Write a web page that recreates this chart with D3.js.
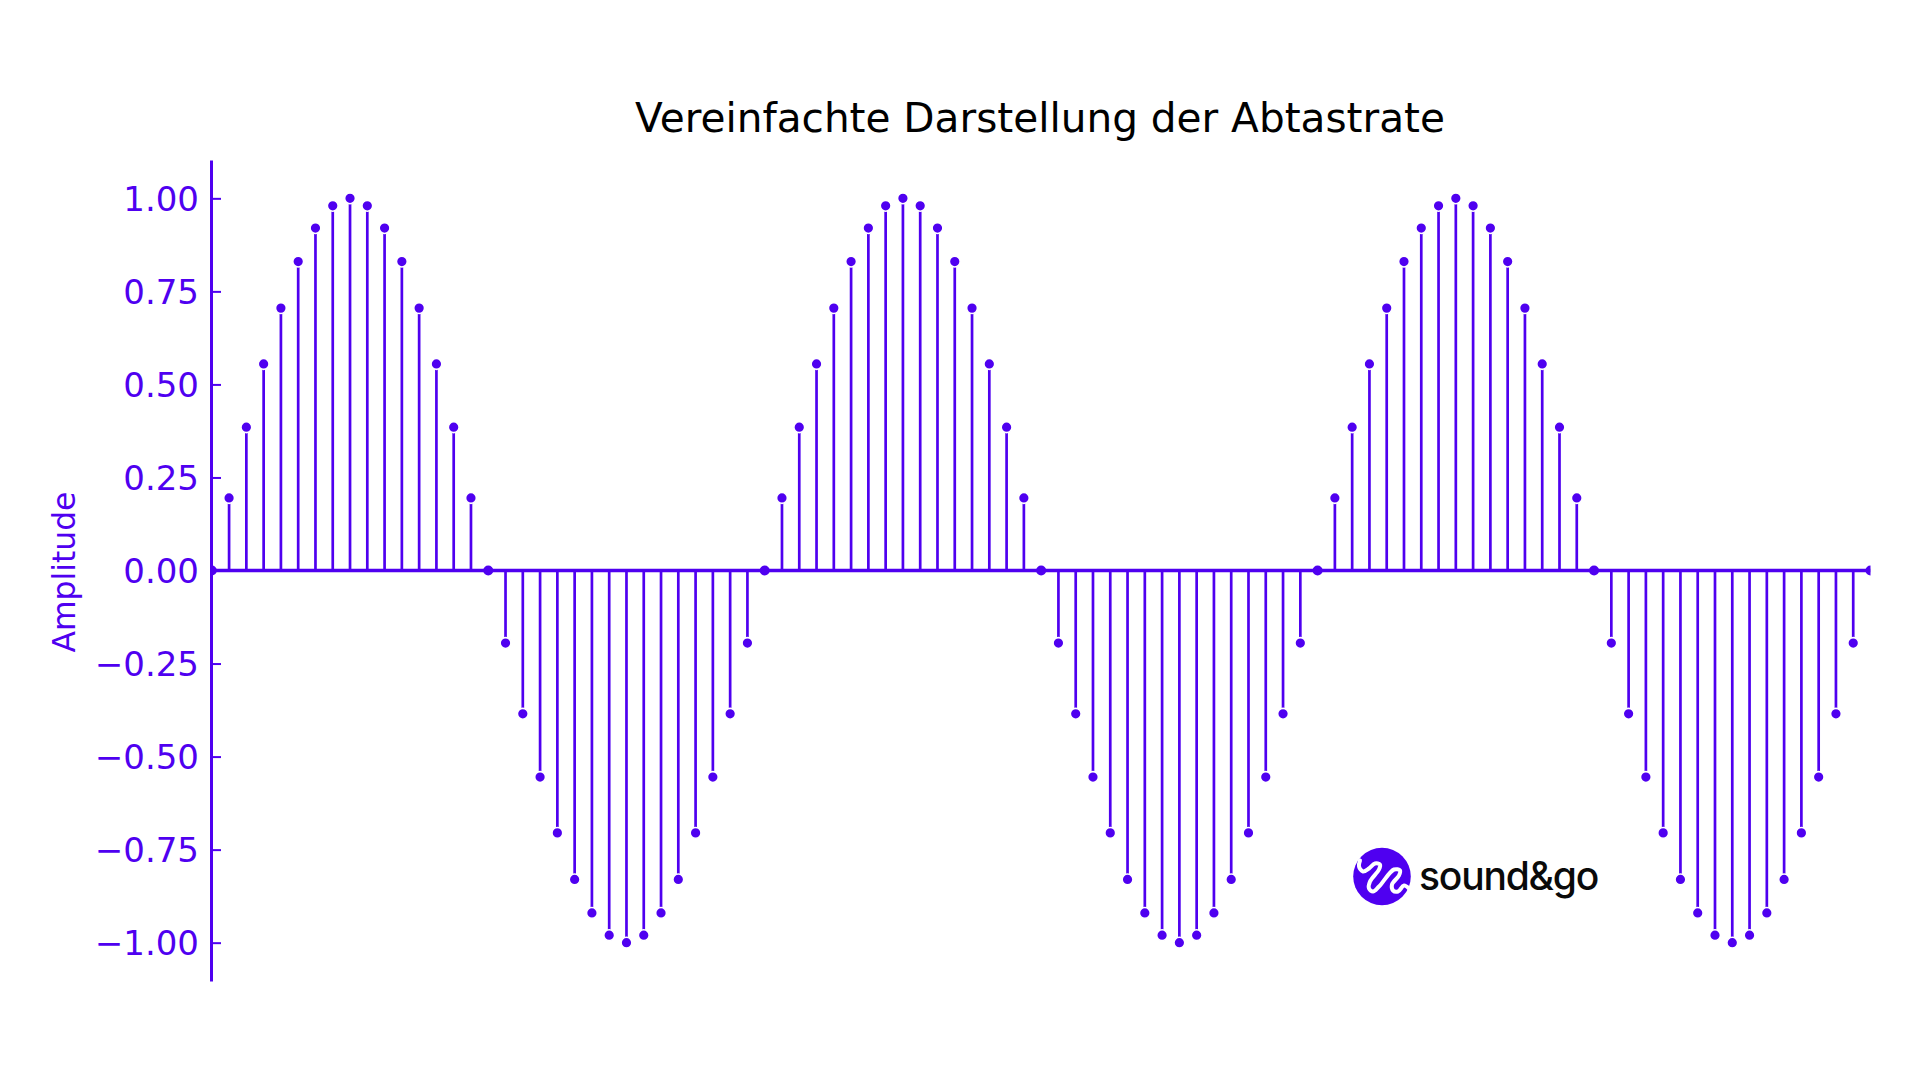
<!DOCTYPE html>
<html lang="de">
<head>
<meta charset="utf-8"/>
<title>Vereinfachte Darstellung der Abtastrate</title>
<script src="https://d3js.org/d3.v7.min.js"></script>
<style>
  html, body { margin: 0; padding: 0; background: #fff; }
  svg { display: block; }
  text { font-family: "DejaVu Sans", sans-serif; }
</style>
</head>
<body>
<div id="chart"></div>
<script>
// data
var titleText = "Vereinfachte Darstellung der Abtastrate";
var yLabel = "Amplitude";
var yTicks = [1, 0.75, 0.5, 0.25, 0, -0.25, -0.5, -0.75, -1];
var yTickLabels = ["1.00", "0.75", "0.50", "0.25", "0.00", "\u22120.25", "\u22120.50", "\u22120.75", "\u22121.00"];
var samples = [
  0, 0.195, 0.385, 0.555, 0.705, 0.83, 0.92, 0.98, 1, 0.98, 0.92, 0.83, 0.705, 0.555, 0.385, 0.195,
  0, -0.195, -0.385, -0.555, -0.705, -0.83, -0.92, -0.98, -1, -0.98, -0.92, -0.83, -0.705, -0.555, -0.385, -0.195,
  0, 0.195, 0.385, 0.555, 0.705, 0.83, 0.92, 0.98, 1, 0.98, 0.92, 0.83, 0.705, 0.555, 0.385, 0.195,
  0, -0.195, -0.385, -0.555, -0.705, -0.83, -0.92, -0.98, -1, -0.98, -0.92, -0.83, -0.705, -0.555, -0.385, -0.195,
  0, 0.195, 0.385, 0.555, 0.705, 0.83, 0.92, 0.98, 1, 0.98, 0.92, 0.83, 0.705, 0.555, 0.385, 0.195,
  0, -0.195, -0.385, -0.555, -0.705, -0.83, -0.92, -0.98, -1, -0.98, -0.92, -0.83, -0.705, -0.555, -0.385, -0.195,
  0
];

var w = 1920;
var h = 1080;
var purple = "#4f00f0";
var left = 211, right = 1870.5, top_ = 160, bottom = 981;

var svg = d3.select("#chart").append("svg").attr("width", w).attr("height", h);

var x = d3.scaleLinear().domain([0, samples.length - 1]).range([left + 0.8, right]);
var y = d3.scaleLinear().domain([1.103, -1.103]).range([top_, bottom]);

svg.append("defs").append("clipPath").attr("id", "plot")
  .append("rect")
  .attr("x", left).attr("y", top_)
  .attr("width", right - left).attr("height", bottom - top_);

var plot = svg.append("g").attr("clip-path", "url(#plot)");

// stems
plot.selectAll("line.stem")
  .data(samples)
  .enter().append("line")
  .attr("class", "stem")
  .attr("x1", function(d, i) { return x(i); })
  .attr("x2", function(d, i) { return x(i); })
  .attr("y1", y(0))
  .attr("y2", function(d) { return y(d); })
  .attr("stroke", purple)
  .attr("stroke-width", 2.7);

// baseline
plot.append("line")
  .attr("x1", left).attr("x2", right)
  .attr("y1", y(0)).attr("y2", y(0))
  .attr("stroke", purple)
  .attr("stroke-width", 3.4);

// markers, white edge leaves the small gap above the stem
plot.selectAll("circle.dot")
  .data(samples)
  .enter().append("circle")
  .attr("class", "dot")
  .attr("cx", function(d, i) { return x(i); })
  .attr("cy", function(d) { return y(d); })
  .attr("r", function(d) { return d === 0 ? 5 : 5.4; })
  .attr("fill", purple)
  .attr("stroke", "#fff")
  .attr("stroke-width", function(d) { return d === 0 ? 0 : 1.6; });

// y axis
var yAxis = d3.axisLeft(y)
  .tickValues(yTicks)
  .tickFormat(function(d, i) { return yTickLabels[i]; })
  .tickSizeInner(-10)
  .tickSizeOuter(0)
  .tickPadding(12);

var axisG = svg.append("g").attr("transform", "translate(" + left + ",0)").call(yAxis);
axisG.select(".domain").attr("stroke", purple).attr("stroke-width", 3);
axisG.selectAll(".tick line").attr("stroke", purple).attr("stroke-width", 2);
axisG.selectAll(".tick text")
  .attr("fill", purple)
  .attr("dy", "0.35em")
  .style("font-family", '"DejaVu Sans", sans-serif')
  .style("font-size", "34px");

svg.append("text")
  .attr("x", 1040).attr("y", 132)
  .attr("text-anchor", "middle")
  .attr("fill", "#000")
  .style("font-size", "40.6px")
  .text(titleText);

svg.append("text")
  .attr("transform", "translate(75,572) rotate(-90)")
  .attr("text-anchor", "middle")
  .attr("fill", purple)
  .style("font-size", "31.4px")
  .text(yLabel);

// logo
var logoWave = [[-22, -16], [-23, -10], [-19, -5], [-13, -8], [-7, -13], [-2, -12], [-3, -7], [-12, 5], [-13, 12],
  [-9, 15], [-3, 10], [12, -7], [18, -6], [17, -1], [10, 8], [11, 14], [16, 15], [22, 9], [27, 12]];
var logo = svg.append("g").attr("transform", "translate(1382,876.5)");
logo.append("circle").attr("r", 28.8).attr("fill", purple);
logo.append("path")
  .attr("d", d3.line().curve(d3.curveCatmullRom)(logoWave))
  .attr("fill", "none")
  .attr("stroke", "#fff")
  .attr("stroke-width", 4)
  .attr("stroke-linecap", "round")
  .attr("stroke-linejoin", "round");

svg.append("text")
  .attr("x", 1419).attr("y", 889.5)
  .attr("fill", "#0a0a0a")
  .style("font-family", "Inter, sans-serif")
  .style("font-weight", 500)
  .style("font-size", "39px")
  .style("letter-spacing", "-1.2px")
  .text("sound&go");
</script>
</body>
</html>
